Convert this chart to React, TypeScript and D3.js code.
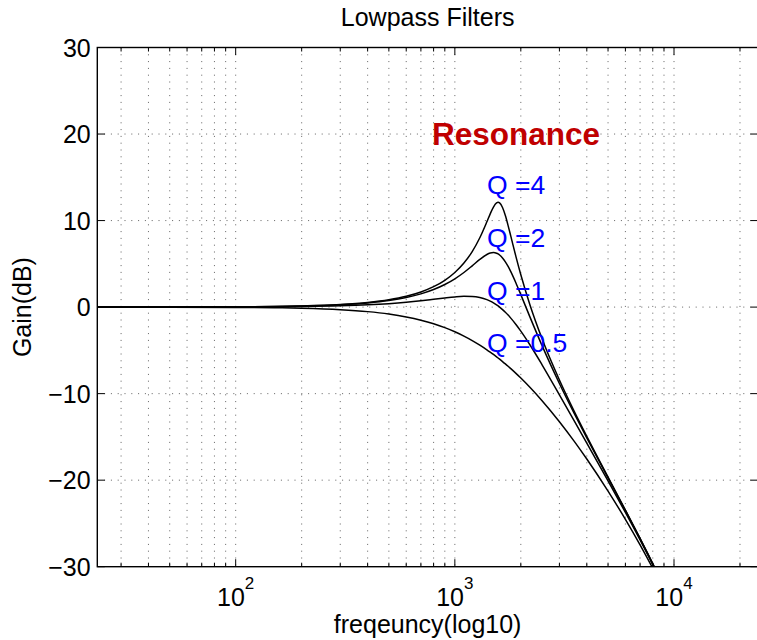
import React from "react";
import * as d3 from "d3";

const freqs = [23.4, 50, 100, 150, 200, 300, 400, 500, 600, 700, 800, 900, 1000, 1100, 1200, 1300, 1400, 1450, 1500, 1550, 1575, 1600, 1650, 1700, 1750, 1800, 1900, 2000, 2200, 2500, 3000, 3500, 4000, 5000, 6000, 7000, 8000, 9000];

// Gain (dB) for each Q
const gainQ4 = [0.002, 0.008, 0.033, 0.073, 0.131, 0.298, 0.537, 0.853, 1.255, 1.753, 2.362, 3.102, 4.0, 5.09, 6.415, 8.015, 9.854, 10.776, 11.564, 12.043, 12.11, 12.041, 11.511, 10.576, 9.422, 8.199, 5.836, 3.734, 0.274, -3.66, -8.423, -12.012, -14.939, -19.644, -23.445, -26.717, -29.648, -32.372];
const gainQ2 = [0.002, 0.007, 0.029, 0.066, 0.118, 0.268, 0.48, 0.758, 1.106, 1.527, 2.027, 2.608, 3.27, 4.001, 4.771, 5.507, 6.079, 6.245, 6.301, 6.228, 6.141, 6.021, 5.684, 5.236, 4.699, 4.098, 2.789, 1.441, -1.126, -4.45, -8.824, -12.258, -15.107, -19.736, -23.502, -26.756, -29.675, -32.392];
const gainQ1 = [0.001, 0.004, 0.017, 0.038, 0.067, 0.149, 0.26, 0.398, 0.556, 0.726, 0.898, 1.055, 1.178, 1.245, 1.228, 1.107, 0.863, 0.694, 0.492, 0.26, 0.134, 0.0, -0.286, -0.596, -0.926, -1.273, -2.007, -2.777, -4.354, -6.666, -10.138, -13.124, -15.72, -20.087, -23.727, -26.908, -29.784, -32.471];
const gainQ05 = [-0.002, -0.008, -0.034, -0.076, -0.134, -0.298, -0.523, -0.803, -1.135, -1.512, -1.927, -2.375, -2.851, -3.349, -3.864, -4.393, -4.93, -5.202, -5.474, -5.747, -5.884, -6.021, -6.294, -6.568, -6.842, -7.115, -7.659, -8.199, -9.264, -10.812, -13.244, -15.487, -17.556, -21.262, -24.523, -27.471, -30.193, -32.774];

const seriesGains = [gainQ4, gainQ2, gainQ1, gainQ05];
const seriesLabels = ["Q =4", "Q =2", "Q =1", "Q =0.5"];
const labelGainsDb = [13.06, 6.94, 0.81, -5.2];
const labelFreqHz = 1401;

const annotationText = "Resonance";
const annotationFreqHz = 786;
const annotationGainDb = 18.73;

const titleText = "Lowpass Filters";
const xLabelText = "freqeuncy(log10)";
const yLabelText = "Gain(dB)";

const yTicks = [-30, -20, -10, 0, 10, 20, 30];
const yGrid = [-20, -10, 0, 10, 20];
const xMajorExp = [2, 3, 4];
const xMinor = [30, 40, 50, 60, 70, 80, 90, 200, 300, 400, 500, 600, 700, 800, 900, 2000, 3000, 4000, 5000, 6000, 7000, 8000, 9000, 20000];

const FONT = "'Liberation Sans', Arial, Helvetica, sans-serif";

export default function App() {
  const W = 757;
  const H = 640;
  const left = 97.3;
  const right = 758;
  const top = 47.5;
  const bottom = 566.7;

  const x = d3
    .scaleLog()
    .domain([Math.pow(10, 1.3686), Math.pow(10, 4.3832)])
    .range([left, right]);
  const y = d3.scaleLinear().domain([-30, 30]).range([bottom, top]);

  const line = d3
    .line<number>()
    .x((_, i) => x(freqs[i]))
    .y((g) => y(g))
    .curve(d3.curveMonotoneX);

  const gridStyle = { stroke: "#222", strokeWidth: 1, strokeDasharray: "1 5.8", opacity: 0.7 };
  const xGrid = [...xMajorExp.map((e) => Math.pow(10, e)), ...xMinor];

  return (
    <svg
      width={W}
      height={H}
      style={{ position: "absolute", left: 0, top: 0, background: "#fff" }}
      fontFamily={FONT}
    >
      <defs>
        <clipPath id="plotClip">
          <rect x={left} y={top} width={right - left} height={bottom - top} />
        </clipPath>
      </defs>
      <rect x={0} y={0} width={W} height={H} fill="#fff" />

      {/* grid */}
      {xGrid.map((v) => (
        <line key={"xg" + v} x1={x(v)} x2={x(v)} y1={top} y2={bottom} style={gridStyle} />
      ))}
      {yGrid.map((v) => (
        <line key={"yg" + v} x1={left} x2={right} y1={y(v)} y2={y(v)} style={gridStyle} />
      ))}

      {/* curves */}
      <g clipPath="url(#plotClip)">
        {seriesGains.map((g, i) => (
          <path key={"s" + i} d={line(g) || ""} fill="none" stroke="#000" strokeWidth={1.5} />
        ))}
      </g>

      {/* ticks */}
      {xMajorExp.map((e) => {
        const px = x(Math.pow(10, e));
        return (
          <g key={"xt" + e}>
            <line x1={px} x2={px} y1={bottom} y2={bottom - 7.5} stroke="#000" strokeWidth={1} />
            <line x1={px} x2={px} y1={top} y2={top + 7.5} stroke="#000" strokeWidth={1} />
          </g>
        );
      })}
      {xMinor.map((v) => (
        <g key={"xm" + v}>
          <line x1={x(v)} x2={x(v)} y1={bottom} y2={bottom - 4} stroke="#000" strokeWidth={1} />
          <line x1={x(v)} x2={x(v)} y1={top} y2={top + 4} stroke="#000" strokeWidth={1} />
        </g>
      ))}
      {yTicks.map((v) => (
        <g key={"yt" + v}>
          <line x1={left} x2={left + 7.5} y1={y(v)} y2={y(v)} stroke="#000" strokeWidth={1} />
          <line x1={right} x2={right - 7.5} y1={y(v)} y2={y(v)} stroke="#000" strokeWidth={1} />
        </g>
      ))}

      {/* axes box */}
      <rect x={left} y={top} width={right - left} height={bottom - top} fill="none" stroke="#000" strokeWidth={1.4} />

      {/* tick labels */}
      {yTicks.map((v) => (
        <text key={"yl" + v} x={90.7} y={y(v) + 9} textAnchor="end" fontSize={25} fill="#000">
          {v < 0 ? "\u2212" + Math.abs(v) : String(v)}
        </text>
      ))}
      {xMajorExp.map((e) => (
        <text key={"xl" + e} x={x(Math.pow(10, e))} y={606} textAnchor="middle" fontSize={25} fill="#000">
          10
          <tspan dy={-17} fontSize={17}>
            {e}
          </tspan>
        </text>
      ))}

      {/* title and axis labels */}
      <text x={(left + right) / 2} y={26} textAnchor="middle" fontSize={25} fill="#000">
        {titleText}
      </text>
      <text x={(left + right) / 2} y={633} textAnchor="middle" fontSize={25} fill="#000">
        {xLabelText}
      </text>
      <text
        transform={`translate(31, ${(top + bottom) / 2}) rotate(-90)`}
        textAnchor="middle"
        fontSize={25}
        fill="#000"
      >
        {yLabelText}
      </text>

      {/* annotations */}
      <text x={x(annotationFreqHz)} y={y(annotationGainDb)} fontSize={31.5} fontWeight="bold" fill="#C00000">
        {annotationText}
      </text>
      {seriesLabels.map((s, i) => (
        <text key={"ql" + i} x={x(labelFreqHz)} y={y(labelGainsDb[i])} fontSize={26.5} fill="#0000FF">
          {s}
        </text>
      ))}
    </svg>
  );
}
